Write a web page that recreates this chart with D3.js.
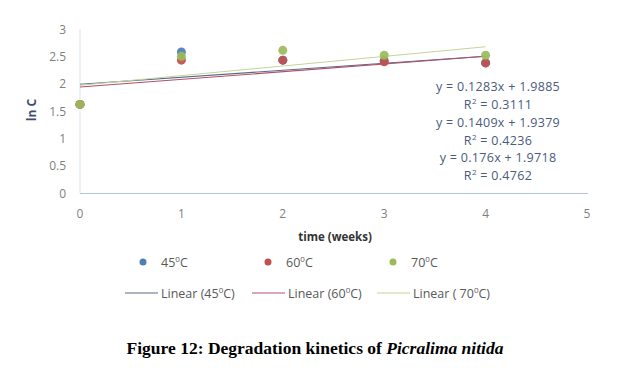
<!DOCTYPE html>
<html><head><meta charset="utf-8">
<script src="https://cdn.jsdelivr.net/npm/d3@7"></script>
<style>body{margin:0;background:#fff;}svg{display:block;}</style>
</head><body>
<svg id="c" width="625" height="368"></svg>
<script>
const weeks = [0, 1, 2, 3, 4];
const series = ["45", "60", "70"];
const lnC45 = [1.62, 2.58, 2.43, 2.42, 2.38];
const lnC60 = [1.62, 2.43, 2.43, 2.40, 2.38];
const lnC70 = [1.62, 2.50, 2.61, 2.52, 2.52];
const slopes = [0.1283, 0.1409, 0.176];
const intercepts = [1.9885, 1.9379, 1.9718];
const r2 = ["0.3111", "0.4236", "0.4762"];
const eqLabels = ["y = 0.1283x + 1.9885", "y = 0.1409x + 1.9379", "y = 0.176x + 1.9718"];
const xTicks = [0, 1, 2, 3, 4, 5];
const yTicks = [0, 0.5, 1, 1.5, 2, 2.5, 3];
const markerColors = ["#4f7db5", "#c0504d", "#9bbb59"];
const lineColors = ["#5a6a84", "#b0506a", "#c4d49c"];
const values = [lnC45, lnC60, lnC70];

const svg = d3.select("#c");
const x = d3.scaleLinear().domain([0, 5]).range([80, 587]);
const y = d3.scaleLinear().domain([0, 3]).range([193, 29]);
const font = "'Open Sans', 'Noto Sans', sans-serif";

// axes lines
svg.append("line").attr("x1", x(0)).attr("x2", x(0)).attr("y1", y(3)).attr("y2", y(0))
  .attr("stroke", "#dde3ec").attr("stroke-width", 1);
svg.append("line").attr("x1", x(0)).attr("x2", x(5) + 1).attr("y1", y(0) + 0.5).attr("y2", y(0) + 0.5)
  .attr("stroke", "#b8c3d4").attr("stroke-width", 1);

// tick labels
svg.selectAll(".yt").data(yTicks).enter().append("text")
  .attr("x", 66).attr("y", d => y(d) + 4.5).attr("text-anchor", "end")
  .attr("font-family", font).attr("font-size", 12).attr("fill", "#7f7f7f").text(d => d);
svg.selectAll(".xt").data(xTicks).enter().append("text")
  .attr("x", d => x(d)).attr("y", 218).attr("text-anchor", "middle")
  .attr("font-family", font).attr("font-size", 12).attr("fill", "#7f7f7f").text(d => d);

// axis titles
svg.append("text").attr("transform", "translate(36,110) rotate(-90)").attr("text-anchor", "middle")
  .attr("font-family", font).attr("font-size", 12).attr("font-weight", "bold").attr("fill", "#3e4c6a").text("ln C");
svg.append("text").attr("x", 335).attr("y", 241).attr("text-anchor", "middle")
  .attr("font-family", font).attr("font-size", 11.5).attr("font-weight", "bold").attr("fill", "#333").text("time (weeks)");

// trendlines
series.forEach((s, i) => {
  svg.append("line")
    .attr("x1", x(0)).attr("y1", y(intercepts[i]))
    .attr("x2", x(4)).attr("y2", y(intercepts[i] + slopes[i] * 4))
    .attr("stroke", lineColors[i]).attr("stroke-width", 1.1);
});

// points
series.forEach((s, i) => {
  svg.selectAll(".p" + s).data(weeks).enter().append("circle")
    .attr("cx", d => x(d)).attr("cy", (d, j) => y(values[i][j])).attr("r", 4.5)
    .attr("fill", markerColors[i]).attr("opacity", 0.92);
});

// equations
const eqG = svg.append("g").attr("font-family", font).attr("font-size", 12.5).attr("letter-spacing", 0.3)
  .attr("fill", "#4a5b7c").attr("text-anchor", "middle");
series.forEach((s, i) => {
  eqG.append("text").attr("x", 498).attr("y", 91 + i * 35.5).text(eqLabels[i]);
  const t = eqG.append("text").attr("x", 498).attr("y", 109 + i * 35.5);
  t.append("tspan").text("R");
  t.append("tspan").attr("dy", -5).attr("font-size", 8).text("2");
  t.append("tspan").attr("dy", 5).text(" = " + r2[i]);
});

// legend
const lg = svg.append("g").attr("font-family", font).attr("font-size", 12.5).attr("fill", "#595959");
const legX = [143, 268, 393];
series.forEach((s, i) => {
  lg.append("circle").attr("cx", legX[i]).attr("cy", 262).attr("r", 3.5).attr("fill", markerColors[i]);
  const t = lg.append("text").attr("x", legX[i] + 18).attr("y", 266.5);
  t.append("tspan").text(s);
  t.append("tspan").attr("dy", -5).attr("font-size", 8).text("0");
  t.append("tspan").attr("dy", 5).text("C");
});
const lineX = [125, 252, 377];
const linPre = ["Linear (", "Linear (", "Linear ( "];
series.forEach((s, i) => {
  lg.append("line").attr("x1", lineX[i]).attr("x2", lineX[i] + 33).attr("y1", 293).attr("y2", 293)
    .attr("stroke", lineColors[i]).attr("stroke-width", 1);
  const t = lg.append("text").attr("x", lineX[i] + 36).attr("y", 297.5);
  t.append("tspan").text(linPre[i] + s);
  t.append("tspan").attr("dy", -5).attr("font-size", 8).text("0");
  t.append("tspan").attr("dy", 5).text("C)");
});

// caption
const cap = svg.append("text").attr("x", 315).attr("y", 354).attr("text-anchor", "middle")
  .attr("font-family", "'Liberation Serif', 'Times New Roman', serif").attr("font-size", 17.5)
  .attr("font-weight", "bold").attr("fill", "#000");
cap.append("tspan").text("Figure 12: Degradation kinetics of ");
cap.append("tspan").attr("font-style", "italic").text("Picralima nitida");
</script>
</body></html>
